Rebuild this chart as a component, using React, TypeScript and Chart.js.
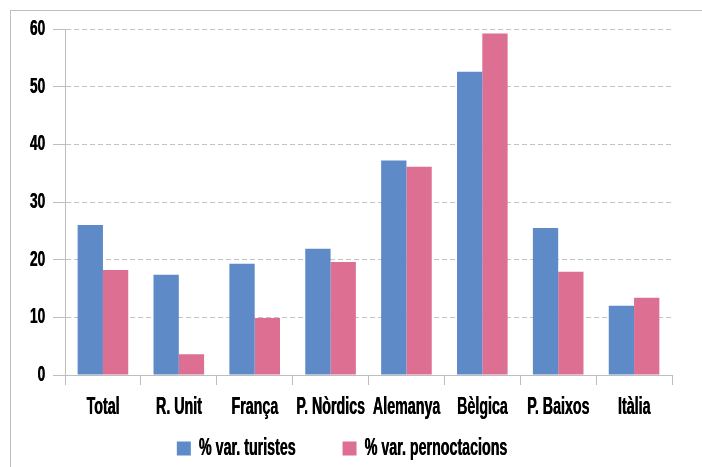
import React, { useEffect, useRef } from "react";
import { Chart, registerables } from "chart.js";

Chart.register(...registerables);

const categories = ["Total", "R. Unit", "França", "P. Nòrdics", "Alemanya", "Bèlgica", "P. Baixos", "Itàlia"];
const turistes = [26.0, 17.4, 19.3, 21.9, 37.2, 52.6, 25.5, 12.0];
const pernoctacions = [18.2, 3.6, 9.9, 19.6, 36.1, 59.2, 17.9, 13.4];
const seriesLabels = ["% var. turistes", "% var. pernoctacions"];
const seriesColors = ["#5e8ac7", "#dd6f92"];
const yTicks = { min: 0, max: 60, step: 10 };

const FONT = '"Liberation Sans", Arial, sans-serif';
const SX = 0.62; // horizontal condensing of all text

const customLegend = {
  id: "customLegend",
  afterDraw(chart: any) {
    const ctx = chart.ctx;
    ctx.save();
    ctx.font = `bold 23px ${FONT}`;
    ctx.textAlign = "left";
    ctx.textBaseline = "alphabetic";
    const box = 14;
    const gapBoxText = 8;
    const gapItems = 47;
    const items = chart.data.datasets.map((d: any) => ({
      label: d.label as string,
      color: d.backgroundColor as string,
      w: ctx.measureText(d.label).width,
    }));
    let total = 0;
    items.forEach((it: any, i: number) => {
      total += box + gapBoxText + it.w + (i > 0 ? gapItems : 0);
    });
    const center = 342;
    let x = center - total / 2;
    const baseline = 455;
    items.forEach((it: any) => {
      ctx.fillStyle = it.color;
      ctx.fillRect(x, 441.5, box, box);
      ctx.fillStyle = "#000";
      ctx.fillText(it.label, x + box + gapBoxText, baseline);
      x += box + gapBoxText + it.w + gapItems;
    });
    ctx.restore();
  },
};

export default function App() {
  const ref = useRef<HTMLCanvasElement | null>(null);

  useEffect(() => {
    const canvas = ref.current;
    if (!canvas) return;
    const c2d: any = canvas.getContext("2d");
    const origFill = c2d.fillText.bind(c2d);
    const origMeasure = c2d.measureText.bind(c2d);
    c2d.fillText = (text: string, x: number, y: number) => {
      c2d.save();
      c2d.translate(x, y);
      c2d.scale(SX, 1);
      origFill(text, 0, 0);
      origFill(text, 0.6, 0);
      c2d.restore();
    };
    c2d.measureText = (text: string) => {
      const m = origMeasure(text);
      return {
        width: m.width * SX,
        actualBoundingBoxAscent: m.actualBoundingBoxAscent,
        actualBoundingBoxDescent: m.actualBoundingBoxDescent,
        actualBoundingBoxLeft: m.actualBoundingBoxLeft * SX,
        actualBoundingBoxRight: m.actualBoundingBoxRight * SX,
      };
    };

    const chart = new Chart(canvas, {
      type: "bar",
      data: {
        labels: categories,
        datasets: [
          {
            label: seriesLabels[0],
            data: turistes,
            backgroundColor: seriesColors[0],
            borderWidth: 0,
            categoryPercentage: 0.667,
            barPercentage: 1,
          },
          {
            label: seriesLabels[1],
            data: pernoctacions,
            backgroundColor: seriesColors[1],
            borderWidth: 0,
            categoryPercentage: 0.667,
            barPercentage: 1,
          },
        ],
      },
      options: {
        responsive: false,
        animation: false,
        devicePixelRatio: 1,
        layout: { padding: { left: 0, right: 30, top: 29, bottom: 32 } },
        plugins: {
          tooltip: { enabled: false },
          title: { display: false },
          legend: { display: false },
        },
        scales: {
          x: {
            grid: {
              display: true,
              offset: true,
              drawOnChartArea: false,
              drawTicks: true,
              tickLength: 10,
              color: "#bdbdbd",
              lineWidth: 1,
            },
            border: { display: true, color: "#bdbdbd", width: 1 },
            ticks: {
              color: "#000",
              padding: 9,
              maxRotation: 0,
              autoSkip: false,
              font: { family: FONT, size: 23, weight: "bold" },
            },
            afterFit: (s: any) => {
              s.height = 60;
            },
          },
          y: {
            min: yTicks.min,
            max: yTicks.max,
            grid: {
              display: true,
              drawTicks: true,
              tickLength: 12,
              color: "#c4c4c4",
              tickColor: "#bdbdbd",
              lineWidth: 1,
              tickBorderDash: [],
            },
            border: { display: true, color: "#bdbdbd", width: 1, dash: [5, 3] },
            ticks: {
              stepSize: yTicks.step,
              color: "#000",
              padding: 8,
              font: { family: FONT, size: 22, weight: "bold" },
            },
            afterFit: (s: any) => {
              s.width = 65;
            },
          },
        },
      },
      plugins: [customLegend],
    });
    return () => {
      chart.destroy();
      c2d.fillText = origFill;
      c2d.measureText = origMeasure;
    };
  }, []);

  return (
    <div style={{ position: "fixed", left: 0, top: 0, width: 702, height: 467, overflow: "hidden", background: "#fff" }}>
      <div
        style={{
          position: "absolute",
          left: 10,
          top: 10,
          width: 760,
          height: 520,
          border: "1px solid #c0c0c0",
          boxSizing: "border-box",
        }}
      />
      <canvas
        ref={ref}
        width={702}
        height={467}
        style={{ position: "absolute", left: 0, top: 0, width: 702, height: 467 }}
      />
    </div>
  );
}
